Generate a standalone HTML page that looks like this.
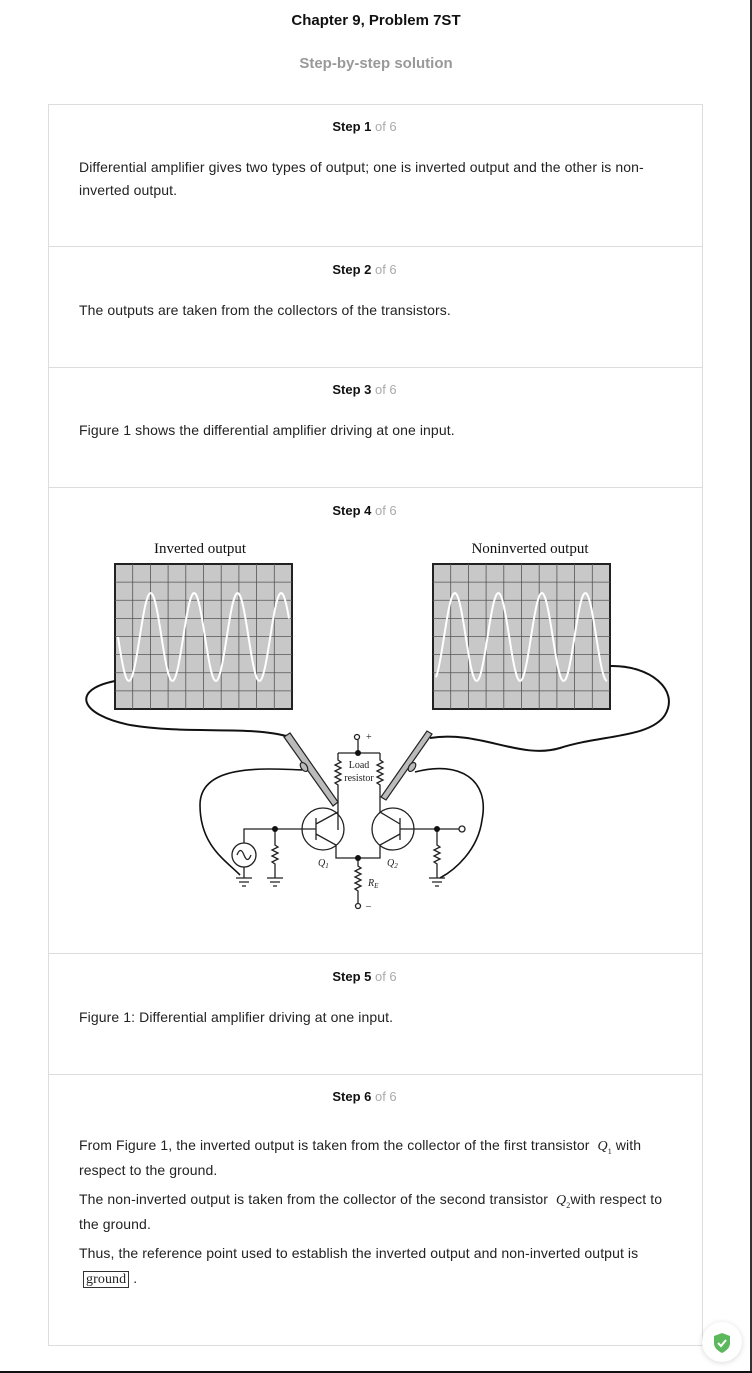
<!DOCTYPE html>
<html><head><meta charset="utf-8">
<style>
*{margin:0;padding:0;box-sizing:border-box}
body{width:752px;height:1373px;background:#fff;font-family:"Liberation Sans",Arial,sans-serif;color:#222;position:relative;overflow:hidden}
.abs{position:absolute}
.title{left:0;width:752px;top:12px;text-align:center;font-weight:bold;font-size:15px;color:#111}
.sub{left:0;width:752px;top:55px;text-align:center;font-weight:bold;font-size:15px;color:#999}
.box{left:48px;top:104px;width:655px;height:1242px;border:1px solid #ddd}
.div{left:49px;width:653px;height:1px;background:#ddd}
.step{left:37px;width:655px;text-align:center;font-size:13px;font-weight:bold;color:#111}
.step span{font-weight:normal;color:#aaa}
.txt{left:79px;width:580px;font-size:14px;line-height:23px;color:#222;letter-spacing:0.1px}
.q{font-family:"Liberation Serif",serif;font-style:italic;font-size:14px;line-height:0}
.q sub{font-size:8px;font-style:normal;line-height:0}
</style></head><body>
<div class="abs title">Chapter 9, Problem 7ST</div>
<div class="abs sub">Step-by-step solution</div>
<div class="abs box"></div>
<div class="abs div" style="top:246px"></div>
<div class="abs div" style="top:367px"></div>
<div class="abs div" style="top:487px"></div>
<div class="abs div" style="top:953px"></div>
<div class="abs div" style="top:1074px"></div>

<div class="abs step" style="top:119px">Step 1 <span>of 6</span></div>
<div class="abs txt" style="top:156px">Differential amplifier gives two types of output; one is inverted output and the other is non-inverted output.</div>
<div class="abs step" style="top:262px">Step 2 <span>of 6</span></div>
<div class="abs txt" style="top:299px">The outputs are taken from the collectors of the transistors.</div>
<div class="abs step" style="top:382px">Step 3 <span>of 6</span></div>
<div class="abs txt" style="top:419px">Figure 1 shows the differential amplifier driving at one input.</div>
<div class="abs step" style="top:503px">Step 4 <span>of 6</span></div>
<div class="abs step" style="top:969px">Step 5 <span>of 6</span></div>
<div class="abs txt" style="top:1006px">Figure 1: Differential amplifier driving at one input.</div>
<div class="abs step" style="top:1089px">Step 6 <span>of 6</span></div>
<div class="abs txt" style="top:1133px;line-height:25px;width:594px">
<div>From Figure 1, the inverted output is taken from the collector of the first transistor &nbsp;<span class="q">Q<sub>1</sub></span> with respect to the ground.</div>
<div style="margin-top:4px">The non-inverted output is taken from the collector of the second transistor &nbsp;<span class="q">Q<sub>2</sub></span>with respect to the ground.</div>
<div style="margin-top:4px">Thus, the reference point used to establish the inverted output and non-inverted output is<br>
&nbsp;<span style="font-family:'Liberation Serif',serif;font-size:14px;border:1px solid #333;padding:0 2px">ground</span> .</div>
</div>

<svg class="abs" style="left:0;top:0" width="752" height="1373">
<g font-family="Liberation Serif,serif" fill="#111">
<text x="200" y="553" font-size="15" text-anchor="middle">Inverted output</text>
<text x="530" y="553" font-size="15" text-anchor="middle">Noninverted output</text>
</g>
<g id="scopes"></g>
<g fill="none" stroke="#111" stroke-width="2">
<path d="M115 681 C70 690,80 715,130 725 C190 735,250 725,290 737"/>
<path d="M610 666 C650 665,680 690,665 715 C650 738,600 735,560 748 C520 760,480 730,430 738"/>
<path d="M302 770 C260 768,200 765,200 805 C200 845,225 860,240 875" stroke-width="1.6"/>
<path d="M415 772 C460 760,490 780,482 820 C478 850,455 870,440 878" stroke-width="1.6"/>
</g>
<g stroke="#222" stroke-width="1.3" fill="none">
<circle cx="357" cy="737" r="2.5" fill="#fff"/>
<line x1="358" y1="740" x2="358" y2="753"/>
<path d="M338 753 H380 M338 753 V760 l3 2 -6 3 6 3 -6 3 6 3 -6 3 6 3 -6 3 3 2 V830 M380 753 V760 l3 2 -6 3 6 3 -6 3 6 3 -6 3 6 3 -6 3 3 2 V808"/>
<circle cx="323" cy="829" r="21"/><circle cx="393" cy="829" r="21"/>
<path d="M316 818 V840 M316 829 H275 M316 824 L338 812 M316 834 L336 845 V858 H380 V845 L400 834 M400 818 V840 M400 829 H437 M400 824 L380 812 V808"/>
<path d="M358 858 V866 l3 2 -6 3 6 3 -6 3 6 3 -6 3 6 3 -6 3 3 2 V903"/>
<circle cx="358" cy="906" r="2.5" fill="#fff"/>
<path d="M275 829 H244 V843 M275 829 V845 l3 2 -6 3 6 3 -6 3 6 3 -6 3 3 2 V878 M244 867 V878"/>
<circle cx="244" cy="855" r="12"/>
<path d="M237 855 q3.5 -9 7 0 q3.5 9 7 0"/>
<path d="M437 829 H460 M437 829 V845 l3 2 -6 3 6 3 -6 3 6 3 -6 3 3 2 V878"/>
<circle cx="462" cy="829" r="3" fill="#fff"/>
<path d="M236 878 H252 M239 882 H249 M242 886 H246 M267 878 H283 M270 882 H280 M273 886 H277 M429 878 H445 M432 882 H442 M435 886 H439"/>
</g>
<g fill="#111"><circle cx="358" cy="753" r="3"/><circle cx="358" cy="858" r="3"/><circle cx="275" cy="829" r="3"/><circle cx="437" cy="829" r="3"/></g>
<g font-family="Liberation Serif,serif" font-size="10" fill="#222">
<text x="359" y="768" text-anchor="middle">Load</text><text x="359" y="781" text-anchor="middle">resistor</text>
<text x="366" y="740">+</text><text x="366" y="909">–</text>
<text x="318" y="866" font-style="italic">Q<tspan font-size="7" dy="2">1</tspan></text>
<text x="387" y="866" font-style="italic">Q<tspan font-size="7" dy="2">2</tspan></text>
<text x="368" y="886" font-style="italic">R<tspan font-size="7" dy="2">E</tspan></text>
</g>
<g stroke="#222" stroke-width="1.2" fill="#bbb">
<path d="M284 737 L290 733 L338 802 L333 806 Z"/>
<path d="M432 734 L427 731 L381 797 L386 800 Z"/>
<ellipse cx="304" cy="767" rx="5" ry="3" transform="rotate(55 304 767)"/>
<ellipse cx="412" cy="767" rx="5" ry="3" transform="rotate(-55 412 767)"/>
</g>
</svg>

<div class="abs" style="left:750px;top:0;width:2px;height:1373px;background:#333"></div>
<div class="abs" style="left:0;top:1371px;width:752px;height:2px;background:#111"></div>
<div class="abs" style="left:702px;top:1322px;width:40px;height:40px;border-radius:50%;background:#fff;box-shadow:0 1px 6px rgba(0,0,0,.15)">
<svg width="40" height="40"><path d="M20 11 L28 14 V21 C28 26,24 29,20 31 C16 29,12 26,12 21 V14 Z" fill="#5cb85c"/><path d="M16 21 l3 3 5 -6" stroke="#fff" stroke-width="2" fill="none"/></svg>
</div>

<script>
const scopeLeft=[115,433];
const scopeSign=[1,-1];
const waveStart=[118,444];
const period=43.5;
const ns='http://www.w3.org/2000/svg';
const g=document.getElementById('scopes');
for(let s=0;s<2;s++){
  const x0=scopeLeft[s],y0=564,w=177,h=145;
  const r=document.createElementNS(ns,'rect');
  r.setAttribute('x',x0);r.setAttribute('y',y0);r.setAttribute('width',w);r.setAttribute('height',h);
  r.setAttribute('fill','#c8c8c8');r.setAttribute('stroke','#222');r.setAttribute('stroke-width','2');
  
  
  g.appendChild(r);
  let d='';
  for(let i=1;i<10;i++){d+=`M${x0+i*w/10} ${y0}V${y0+h}`;}
  for(let j=1;j<8;j++){d+=`M${x0} ${y0+j*h/8}H${x0+w}`;}
  const gp=document.createElementNS(ns,'path');
  gp.setAttribute('d',d);gp.setAttribute('stroke','#555');gp.setAttribute('stroke-width','0.8');
  
  
  g.appendChild(gp);
  let wd='';
  for(let x=x0+3;x<=x0+w-3;x+=1){
    const y=637+scopeSign[s]*44*Math.sin(2*Math.PI*(x-waveStart[s])/period);
    wd+=(wd?'L':'M')+x+' '+y.toFixed(1);
  }
  const wp=document.createElementNS(ns,'path');
  wp.setAttribute('d',wd);wp.setAttribute('stroke','#fff');wp.setAttribute('stroke-width','2');wp.setAttribute('fill','none');
  
  
  g.appendChild(wp);
}
</script>
</body></html>
